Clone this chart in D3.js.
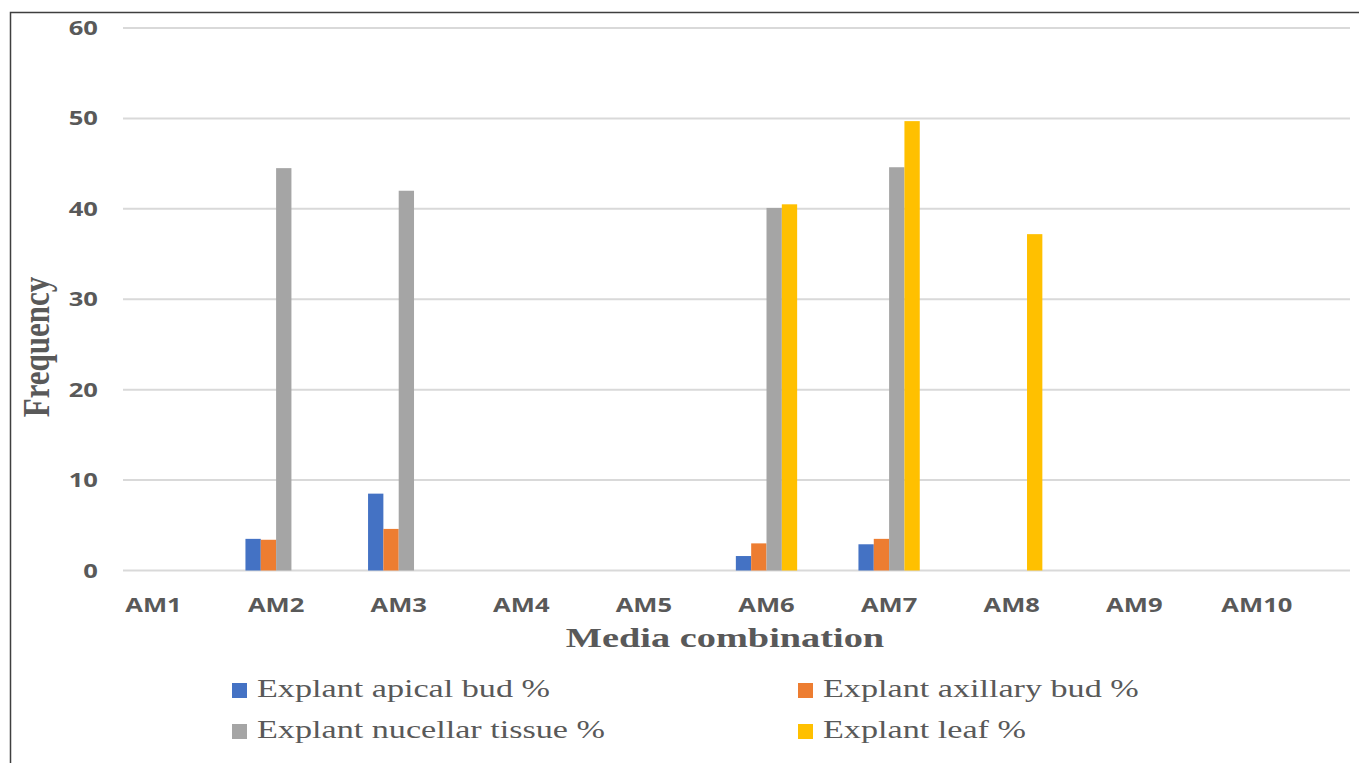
<!DOCTYPE html>
<html>
<head>
<meta charset="utf-8">
<script src="https://cdn.jsdelivr.net/npm/d3@7"></script>
<style>
  body { margin: 0; background: #fff; }
  svg { display: block; }
</style>
</head>
<body>
<div id="chart"></div>
<script>
const categories = ["AM1", "AM2", "AM3", "AM4", "AM5", "AM6", "AM7", "AM8", "AM9", "AM10"];
const seriesNames = ["Explant apical bud %", "Explant axillary bud %", "Explant nucellar tissue %", "Explant leaf %"];
const apicalBud = [0, 3.5, 8.5, 0, 0, 1.6, 2.9, 0, 0, 0];
const axillaryBud = [0, 3.4, 4.6, 0, 0, 3.0, 3.5, 0, 0, 0];
const nucellarTissue = [0, 44.5, 42.0, 0, 0, 40.1, 44.6, 0, 0, 0];
const leaf = [0, 0, 0, 0, 0, 40.5, 49.7, 37.2, 0, 0];
const yTicks = [0, 10, 20, 30, 40, 50, 60];

const allSeries = [apicalBud, axillaryBud, nucellarTissue, leaf];
const colors = ["#4472C4", "#ED7D31", "#A5A5A5", "#FFC000"];

const W = 1359, H = 763;
const textColor = "#595959";
// the reference picture is stretched sideways, text included
const stretch = 1.28;
const serif = "'Liberation Serif', 'Times New Roman', serif";
const sans = "'Open Sans', sans-serif";

const data = categories.map(function(c, i) {
  return {cat: c, values: allSeries.map(function(s, k) { return {key: seriesNames[k], value: s[i]}; })};
});

const svg = d3.select("#chart").append("svg")
  .attr("width", W)
  .attr("height", H);

// outer frame (only left + top edges fall inside the picture)
svg.append("rect")
  .attr("x", 10.5).attr("y", 12.5)
  .attr("width", W + 20).attr("height", H + 20)
  .attr("fill", "none")
  .attr("stroke", "#3f3f3f")
  .attr("stroke-width", 1.5);

const xScale = d3.scaleBand()
  .domain(categories)
  .range([92.2, 1318.2])
  .paddingInner(0.5)
  .paddingOuter(0.25);

const xInner = d3.scaleBand()
  .domain(seriesNames)
  .range([0, xScale.bandwidth()]);

const yScale = d3.scaleLinear()
  .domain([0, 60])
  .range([570.5, 28]);

// place text at (x,y) and stretch it horizontally by k
function place(sel, fx, fy, k) {
  sel.attr("transform", function(d, i) {
    return "translate(" + fx(d, i) + "," + fy(d, i) + ") scale(" + k + ",1)";
  });
}

// gridlines
svg.append("g")
  .selectAll("line")
  .data(yTicks)
  .join("line")
  .attr("x1", 123)
  .attr("x2", 1350)
  .attr("y1", function(d) { return yScale(d); })
  .attr("y2", function(d) { return yScale(d); })
  .attr("stroke", "#D9D9D9")
  .attr("stroke-width", 2);

// y tick labels
svg.append("g")
  .selectAll("text")
  .data(yTicks)
  .join("text")
  .call(place, function() { return 98; }, function(d) { return yScale(d) + 7; }, stretch)
  .attr("text-anchor", "end")
  .style("font-family", sans)
  .style("font-weight", "bold")
  .style("font-size", "20px")
  .attr("fill", textColor)
  .text(function(d) { return d; });

// bars
const groups = svg.append("g")
  .selectAll("g")
  .data(data)
  .join("g")
  .attr("transform", function(d) { return "translate(" + xScale(d.cat) + ",0)"; });

groups.selectAll("rect")
  .data(function(d) { return d.values.filter(function(v) { return v.value > 0; }); })
  .join("rect")
  .attr("x", function(d) { return xInner(d.key); })
  .attr("width", xInner.bandwidth())
  .attr("y", function(d) { return yScale(d.value); })
  .attr("height", function(d) { return yScale(0) - yScale(d.value); })
  .attr("fill", function(d) { return colors[seriesNames.indexOf(d.key)]; });

// x tick labels
svg.append("g")
  .selectAll("text")
  .data(categories)
  .join("text")
  .call(place, function(d) { return xScale(d) + xScale.bandwidth() / 2; }, function() { return 612; }, stretch)
  .attr("text-anchor", "middle")
  .style("font-family", sans)
  .style("font-weight", "bold")
  .style("font-size", "20px")
  .attr("fill", textColor)
  .text(function(d) { return d; });

// axis titles
svg.append("text")
  .attr("transform", "translate(725,647) scale(1.42,1)")
  .attr("text-anchor", "middle")
  .style("font-family", serif)
  .style("font-weight", "bold")
  .style("font-size", "27px")
  .attr("fill", textColor)
  .text("Media combination");

svg.append("text")
  .attr("transform", "translate(49,347) scale(1.25,1) rotate(-90)")
  .attr("text-anchor", "middle")
  .style("font-family", serif)
  .style("font-weight", "bold")
  .style("font-size", "31px")
  .attr("fill", textColor)
  .text("Frequency");

// legend
const legendPos = [[232, 697], [798, 697], [232, 738], [798, 738]];
const legend = svg.append("g")
  .selectAll("g")
  .data(seriesNames)
  .join("g")
  .attr("transform", function(d, i) { return "translate(" + legendPos[i][0] + "," + legendPos[i][1] + ")"; });

legend.append("rect")
  .attr("x", 0)
  .attr("y", -14)
  .attr("width", 15)
  .attr("height", 15)
  .attr("fill", function(d, i) { return colors[i]; });

legend.append("text")
  .attr("transform", "translate(25,0) scale(1.34,1)")
  .style("font-family", serif)
  .style("font-size", "25.5px")
  .attr("fill", textColor)
  .text(function(d) { return d; });
</script>
</body>
</html>
